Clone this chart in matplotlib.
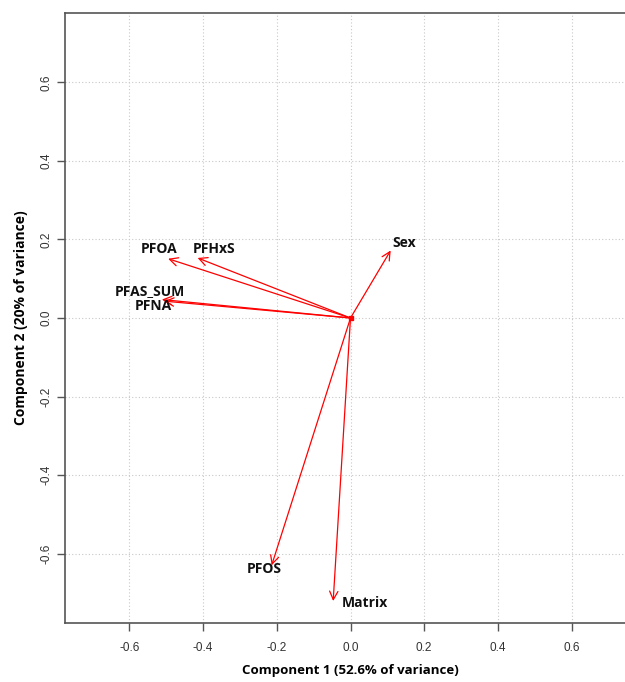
import matplotlib
matplotlib.use('Agg')
import matplotlib.pyplot as plt

# ── Loadings (component 1, component 2) ──────────────────────────────────────
variables = ['PFOA', 'PFHxS', 'PFAS_SUM', 'PFNA', 'Sex', 'PFOS', 'Matrix']
pc1 = [-0.495, -0.415, -0.512, -0.506, 0.109, -0.214, -0.047]
pc2 = [0.151, 0.153, 0.047, 0.043, 0.172, -0.630, -0.721]

# label positions (text centre) for each variable
label_x = [-0.52, -0.37, -0.545, -0.535, 0.145, -0.235, 0.04]
label_y = [0.175, 0.175, 0.07, 0.03, 0.19, -0.64, -0.725]

ticks = [-0.6, -0.4, -0.2, 0.0, 0.2, 0.4, 0.6]
tick_labels = ['-0.6', '-0.4', '-0.2', '0.0', '0.2', '0.4', '0.6']

fig = plt.figure(figsize=(6.25, 6.82), dpi=100)
ax = fig.add_axes([65 / 625, 59 / 682, 571 / 625, 610 / 682])

ax.set_xlim(-0.775, 0.775)
ax.set_ylim(-0.777, 0.777)

# ── Grid + frame (R style) ───────────────────────────────────────────────────
for t in ticks:
    ax.axvline(t, color='#c8c8c8', linestyle=(0, (1, 2)), linewidth=0.8, zorder=0)
    ax.axhline(t, color='#c8c8c8', linestyle=(0, (1, 2)), linewidth=0.8, zorder=0)

for side in ax.spines.values():
    side.set_color('#555555')
    side.set_linewidth(1.2)

ax.set_xticks(ticks)
ax.set_xticklabels(tick_labels, fontsize=8.5, family='Liberation Sans', color='#333333')
ax.set_yticks(ticks)
ax.set_yticklabels(tick_labels, fontsize=8.5, family='Liberation Sans', color='#333333',
                   rotation=90, va='center')
ax.tick_params(direction='out', length=6, width=1, color='#555555')
ax.tick_params(axis='x', pad=8)
ax.tick_params(axis='y', pad=3)

# ── Arrows ───────────────────────────────────────────────────────────────────
for x, y in zip(pc1, pc2):
    ax.annotate('', xy=(x, y), xytext=(0, 0),
                arrowprops=dict(arrowstyle='->,head_length=0.6,head_width=0.3',
                                color='red', linewidth=0.9, shrinkA=0, shrinkB=0))
ax.plot([0], [0], marker='s', markersize=3, color='red')

for name, tx, ty in zip(variables, label_x, label_y):
    ax.text(tx, ty, name, ha='center', va='center', fontsize=10,
            fontweight='bold', family='Open Sans', color='#111111')

ax.set_xlabel('Component 1 (52.6% of variance)', fontsize=9.5, fontweight='bold',
              family='Open Sans', labelpad=7)
ax.set_ylabel('Component 2 (20% of variance)', fontsize=10, fontweight='bold',
              family='Open Sans', labelpad=9)

fig.savefig('out.png', dpi=100)
